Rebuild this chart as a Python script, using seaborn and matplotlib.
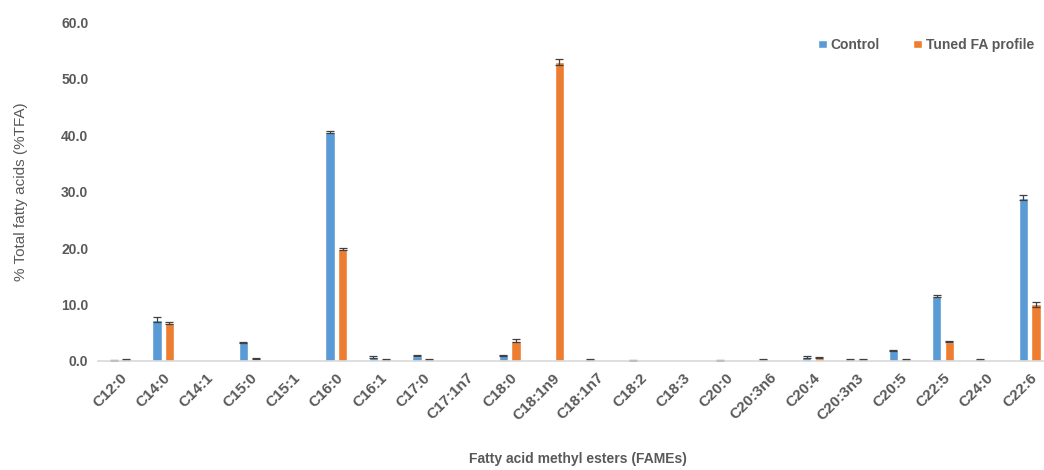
import seaborn as sns
import matplotlib.pyplot as plt
import numpy as np
import pandas as pd

# FAME profile: control vs tuned
fames = ['C12:0', 'C14:0', 'C14:1', 'C15:0', 'C15:1', 'C16:0', 'C16:1', 'C17:0',
         'C17:1n7', 'C18:0', 'C18:1n9', 'C18:1n7', 'C18:2', 'C18:3', 'C20:0',
         'C20:3n6', 'C20:4', 'C20:3n3', 'C20:5', 'C22:5', 'C24:0', 'C22:6']
control = [0.1, 7.3, 0.0, 3.3, 0.0, 40.5, 0.7, 0.9, 0.0, 1.0, 0.0, 0.3, 0.1, 0.0,
           0.05, 0.3, 0.7, 0.3, 1.9, 11.5, 0.3, 28.9]
control_err = [0.05, 0.4, 0.0, 0.1, 0.0, 0.2, 0.1, 0.1, 0.0, 0.1, 0.0, 0.1, 0.05, 0.0,
               0.05, 0.1, 0.1, 0.1, 0.1, 0.2, 0.1, 0.4]
tuned = [0.3, 6.7, 0.0, 0.4, 0.0, 19.8, 0.3, 0.3, 0.0, 3.6, 52.9, 0.0, 0.0, 0.0,
         0.0, 0.0, 0.6, 0.3, 0.3, 3.4, 0.0, 10.0]
tuned_err = [0.1, 0.2, 0.0, 0.1, 0.0, 0.2, 0.1, 0.1, 0.0, 0.2, 0.5, 0.0, 0.0, 0.0,
             0.0, 0.0, 0.1, 0.1, 0.1, 0.1, 0.0, 0.5]
groups = ['Control', 'Tuned FA profile']
colors = ['#5B9BD5', '#ED7D31']

df = pd.DataFrame({
    'fame': fames * 2,
    'group': [groups[0]] * len(fames) + [groups[1]] * len(fames),
    'value': control + tuned,
    'err': control_err + tuned_err,
})

sns.set_theme(style='white')
plt.rcParams['font.family'] = ['Liberation Sans', 'DejaVu Sans']
grey = '#595959'

fig = plt.figure(figsize=(10.44, 4.70), dpi=100)
ax = fig.add_axes([0.094, 0.232, 0.913, 0.721])

sns.barplot(data=df, x='fame', y='value', hue='group', palette=colors,
            order=fames, hue_order=groups, width=0.58, gap=0.25,
            errorbar=None, saturation=1, ax=ax)

# error bars on top of each bar
for cont, g in zip(ax.containers, groups):
    sub = df[df['group'] == g].set_index('fame').loc[fames]
    xs = [p.get_x() + p.get_width() / 2 for p in cont.patches]
    hs = [p.get_height() for p in cont.patches]
    mask = np.array(hs) > 0
    ax.errorbar(np.array(xs)[mask], np.array(hs)[mask], yerr=sub['err'].values[mask],
                fmt='none', ecolor='#404040', elinewidth=0.9, capsize=3, capthick=0.9)

ax.set_ylim(0, 60)
ax.set_yticks(np.arange(0, 61, 10))
ax.set_yticklabels([f'{v:.1f}' for v in np.arange(0, 61, 10)],
                   fontsize=10, fontweight='bold', color=grey)
ax.set_xlim(-0.5, len(fames) - 0.5)
ax.set_xticks(range(len(fames)))
ax.set_xticklabels(fames, rotation=45, ha='right', rotation_mode='anchor',
                   fontsize=11, fontweight='bold', color=grey)
ax.tick_params(axis='both', length=0, pad=7)

for s in ['top', 'right', 'left']:
    ax.spines[s].set_visible(False)
ax.spines['bottom'].set_color('#D9D9D9')
ax.spines['bottom'].set_linewidth(1.2)

ax.set_ylabel('% Total fatty acids (%TFA)', fontsize=11, color=grey)
ax.yaxis.set_label_coords(-0.074, 0.5)
ax.set_xlabel('Fatty acid methyl esters (FAMEs)', fontsize=10, fontweight='bold',
              color=grey)
ax.xaxis.set_label_coords(0.503, -0.27)

leg = ax.legend(loc='upper right', bbox_to_anchor=(0.995, 0.99), ncol=2, frameon=False,
                handlelength=0.6, handleheight=0.45, handletextpad=0.3, columnspacing=2.4,
                prop={'weight': 'bold', 'size': 10})
for t in leg.get_texts():
    t.set_color(grey)

fig.savefig('out.png', dpi=100)
